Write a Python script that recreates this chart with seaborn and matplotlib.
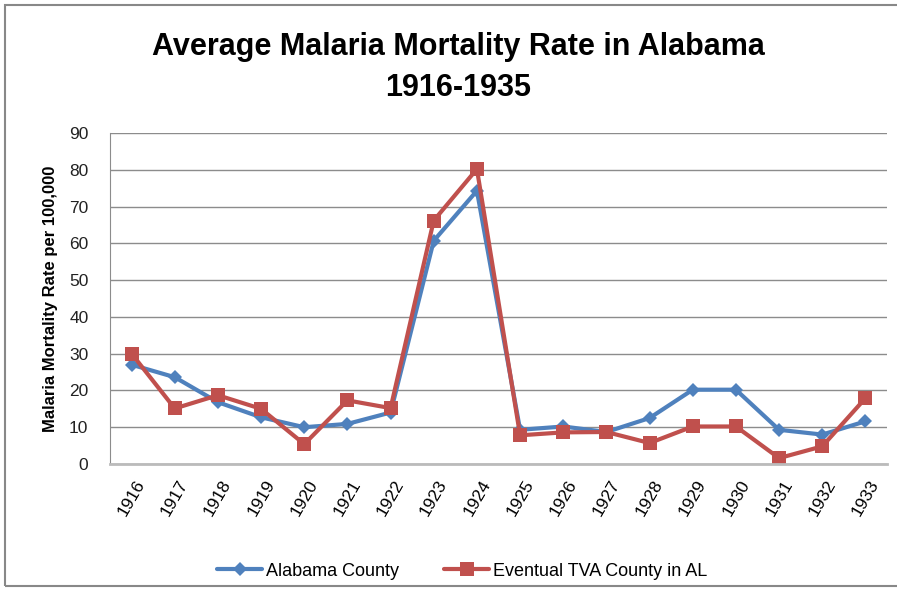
import pandas as pd
import matplotlib.pyplot as plt
import seaborn as sns
from matplotlib.patches import Rectangle

years = list(range(1916, 1934))
alabama = [27.0, 23.6, 16.8, 12.7, 10.0, 10.9, 14.0, 60.7, 74.3,
           9.3, 10.2, 8.7, 12.5, 20.2, 20.2, 9.3, 8.0, 11.6]
tva = [30.0, 15.1, 18.7, 15.0, 5.4, 17.3, 15.2, 66.2, 80.2,
       7.8, 8.6, 8.7, 5.7, 10.2, 10.2, 1.6, 4.8, 17.9]
series_names = ['Alabama County', 'Eventual TVA County in AL']

df = pd.DataFrame({
    'year': [str(y) for y in years] * 2,
    'rate': alabama + tva,
    'series': [series_names[0]] * len(years) + [series_names[1]] * len(years),
})
df['pos'] = list(range(len(years))) * 2

sns.set_style('white')
plt.rcParams['font.family'] = ['Liberation Sans', 'DejaVu Sans']
plt.rcParams['text.color'] = 'black'

fig = plt.figure(figsize=(8.97, 6.01), dpi=100)
ax = fig.add_axes([110 / 897, 1 - 464 / 601, 777 / 897, 331 / 601])

# frame around the chart
fig.patches.append(Rectangle((5 / 897, 1 - 586 / 601), 1.0, 581 / 601,
                             transform=fig.transFigure, fill=False,
                             edgecolor='#888888', linewidth=1.5))

palette = {series_names[0]: '#4F81BD', series_names[1]: '#C0504D'}
sns.lineplot(data=df, x='pos', y='rate', hue='series', style='series',
             markers={series_names[0]: 'D', series_names[1]: 's'},
             dashes=False, palette=palette, linewidth=3, ax=ax, legend=False)
for line, ms in zip(ax.lines, [7, 10]):
    line.set_markersize(ms)
    line.set_markeredgewidth(0)

ax.set_xlim(-0.5, len(years) - 0.5)
ax.set_ylim(0, 90)
ax.set_yticks(range(0, 91, 10))
ax.set_xticks(range(len(years)))
ax.set_xticklabels(years, rotation=60, fontsize=12.5)
ax.tick_params(axis='y', labelsize=12.5, pad=12, labelcolor='#222222')
ax.tick_params(axis='x', pad=6, labelcolor='black')
ax.yaxis.grid(True, color='#8C8C8C', linewidth=1)
for s in ['top', 'right']:
    ax.spines[s].set_visible(False)
ax.spines['left'].set_color('#8C8C8C')
ax.spines['bottom'].set_color('#BBBBBB')
ax.spines['bottom'].set_linewidth(2)
ax.set_xlabel('')
ax.set_ylabel('Malaria Mortality Rate per 100,000', fontsize=12,
              fontweight='bold', labelpad=8, color='black')

fig.text(458 / 897, 1 - 47 / 601, 'Average Malaria Mortality Rate in Alabama',
         ha='center', va='center', fontsize=22, fontweight='bold', color='black')
fig.text(458 / 897, 1 - 88 / 601, '1916-1935',
         ha='center', va='center', fontsize=22, fontweight='bold', color='black')

handles = [plt.Line2D([], [], color='#4F81BD', marker='D', lw=3, ms=7, mew=0),
           plt.Line2D([], [], color='#C0504D', marker='s', lw=3, ms=10, mew=0)]
fig.legend(handles, series_names, loc='center', bbox_to_anchor=(462 / 897, 1 - 571 / 601),
           ncol=2, frameon=False, fontsize=13, handlelength=2.5, columnspacing=2.5,
           handletextpad=0.2)

fig.savefig('out.png', dpi=100)
